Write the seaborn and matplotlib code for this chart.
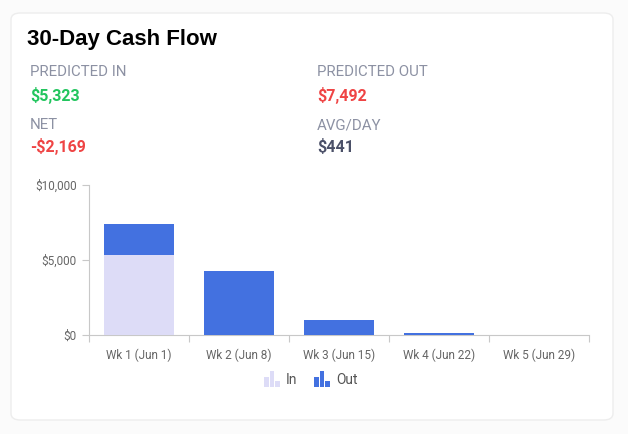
import numpy as np
import pandas as pd
import matplotlib.pyplot as plt
import seaborn as sns
from matplotlib.patches import FancyBboxPatch
from matplotlib.lines import Line2D
from matplotlib.path import Path

weeks = ['Wk 1 (Jun 1)', 'Wk 2 (Jun 8)', 'Wk 3 (Jun 15)', 'Wk 4 (Jun 22)', 'Wk 5 (Jun 29)']
cash_in = [5323, 0, 0, 0, 0]
cash_out = [2082, 4290, 990, 130, 0]
y_ticks = [0, 5000, 10000]
y_labels = ['$0', '$5,000', '$10,000']

stats = [('PREDICTED IN', '$5,323', '#22c55e'),
         ('PREDICTED OUT', '$7,492', '#ef4444'),
         ('NET', '-$2,169', '#ef4444'),
         ('AVG/DAY', '$441', '#4b5068')]

in_col = '#dddcf7'
out_col = '#4371e0'
grey = '#666666'

sns.set_theme(style='white')
plt.rcParams['font.family'] = ['Roboto', 'DejaVu Sans']

df = pd.DataFrame({'week': weeks, 'in': cash_in, 'out': cash_out})
df['total'] = df['in'] + df['out']

fig = plt.figure(figsize=(6.28, 4.34), dpi=100)
fig.patch.set_facecolor('#fbfbfb')

# card behind everything
card = FancyBboxPatch((11 / 628, 1 - 420 / 434), 602 / 628, 407 / 434,
                      boxstyle='round,pad=0,rounding_size=0.015',
                      transform=fig.transFigure, facecolor='white',
                      edgecolor='#ededed', linewidth=1, zorder=-5)
fig.patches.append(card)

fig.text(27 / 628, 1 - 40 / 434, '30-Day Cash Flow', fontsize=16, fontweight='bold',
         family=['Liberation Sans', 'DejaVu Sans'], color='black', va='center')

xs = [30 / 628, 317 / 628]
rows = [(72, 95), (125, 147)]
for i, (lab, val, col) in enumerate(stats):
    x = xs[i % 2]
    ly, vy = rows[i // 2]
    fig.text(x, 1 - ly / 434, lab, fontsize=10.8, color='#8c91a3', va='center')
    fig.text(x, 1 - vy / 434, val, fontsize=11.5, fontweight='bold', color=col, va='center')

ax = fig.add_axes([89 / 628, 1 - 335 / 434, 500 / 628, 150 / 434])
ax.set_facecolor('none')
# stacked look: total (Out colour) behind, In drawn over it
sns.barplot(data=df, x='week', y='total', color=out_col, saturation=1, width=0.7,
            linewidth=0, ax=ax, zorder=3)
sns.barplot(data=df, x='week', y='in', color=in_col, saturation=1, width=0.7,
            linewidth=0, ax=ax, zorder=3)

ax.set_ylim(0, 10000)
ax.set_xlim(-0.5, 4.5)
ax.set_yticks(y_ticks)
ax.set_yticklabels(y_labels)
ax.set_xlabel('')
ax.set_ylabel('')
for s in ['top', 'right']:
    ax.spines[s].set_visible(False)
for s in ['left', 'bottom']:
    ax.spines[s].set_color('#c8c8c8')
    ax.spines[s].set_linewidth(0.8)
    ax.spines[s].set_zorder(1)
ax.tick_params(axis='y', length=5, width=0.8, color='#c8c8c8', labelsize=8.5, labelcolor=grey, pad=4, left=True)
ax.tick_params(axis='x', which='major', length=0, labelsize=8.5, labelcolor=grey, pad=10)
ax.set_xticks(np.arange(-0.5, 5, 1), minor=True)
ax.tick_params(axis='x', which='minor', length=5, width=0.8, color='#c8c8c8', bottom=True)

# bar-chart icons for the legend (centred on 0)
icon = Path([(-5, -5), (-5, 1), (-2, 1), (-2, -5), (-5, -5),
             (-1.4, -5), (-1.4, 5), (1.4, 5), (1.4, -5), (-1.4, -5),
             (2, -5), (2, -1), (5, -1), (5, -5), (2, -5)],
            [1, 2, 2, 2, 79] * 3)
handles = [Line2D([], [], linestyle='none', marker=icon, markersize=11,
                  markerfacecolor=c, markeredgewidth=0) for c in (in_col, out_col)]
fig.legend(handles, ['In', 'Out'], loc='center', bbox_to_anchor=(311 / 628, 1 - 380 / 434),
           ncol=2, frameon=False, fontsize=10, labelcolor='#555555',
           handlelength=1.0, handletextpad=0.5, columnspacing=1.3)

fig.savefig('out.png', dpi=100, facecolor=fig.get_facecolor())
